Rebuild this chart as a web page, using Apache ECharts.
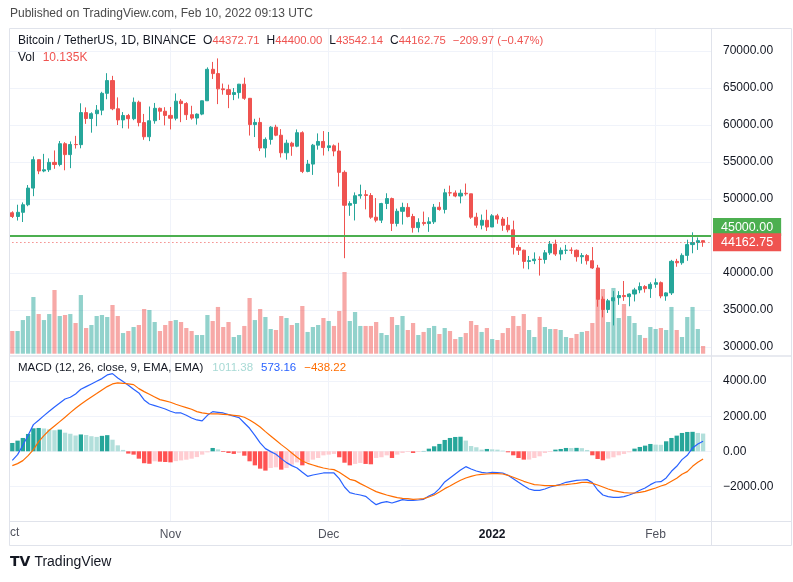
<!DOCTYPE html>
<html><head><meta charset="utf-8">
<script src="https://cdn.jsdelivr.net/npm/echarts/dist/echarts.min.js"></script>
<style>html,body{margin:0;padding:0;background:#fff}#c{width:793px;height:582px}</style>
</head><body><div id="c"></div>
<script>
// ---- categories (Oct 1 and Feb 11 are empty slots, as on the original time scale) ----
const dates = [
'2021-10-01','2021-10-02','2021-10-03','2021-10-04','2021-10-05','2021-10-06','2021-10-07','2021-10-08','2021-10-09','2021-10-10','2021-10-11','2021-10-12','2021-10-13','2021-10-14','2021-10-15','2021-10-16','2021-10-17','2021-10-18','2021-10-19','2021-10-20','2021-10-21','2021-10-22','2021-10-23','2021-10-24','2021-10-25','2021-10-26','2021-10-27','2021-10-28','2021-10-29','2021-10-30','2021-10-31',
'2021-11-01','2021-11-02','2021-11-03','2021-11-04','2021-11-05','2021-11-06','2021-11-07','2021-11-08','2021-11-09','2021-11-10','2021-11-11','2021-11-12','2021-11-13','2021-11-14','2021-11-15','2021-11-16','2021-11-17','2021-11-18','2021-11-19','2021-11-20','2021-11-21','2021-11-22','2021-11-23','2021-11-24','2021-11-25','2021-11-26','2021-11-27','2021-11-28','2021-11-29','2021-11-30',
'2021-12-01','2021-12-02','2021-12-03','2021-12-04','2021-12-05','2021-12-06','2021-12-07','2021-12-08','2021-12-09','2021-12-10','2021-12-11','2021-12-12','2021-12-13','2021-12-14','2021-12-15','2021-12-16','2021-12-17','2021-12-18','2021-12-19','2021-12-20','2021-12-21','2021-12-22','2021-12-23','2021-12-24','2021-12-25','2021-12-26','2021-12-27','2021-12-28','2021-12-29','2021-12-30','2021-12-31',
'2022-01-01','2022-01-02','2022-01-03','2022-01-04','2022-01-05','2022-01-06','2022-01-07','2022-01-08','2022-01-09','2022-01-10','2022-01-11','2022-01-12','2022-01-13','2022-01-14','2022-01-15','2022-01-16','2022-01-17','2022-01-18','2022-01-19','2022-01-20','2022-01-21','2022-01-22','2022-01-23','2022-01-24','2022-01-25','2022-01-26','2022-01-27','2022-01-28','2022-01-29','2022-01-30','2022-01-31',
'2022-02-01','2022-02-02','2022-02-03','2022-02-04','2022-02-05','2022-02-06','2022-02-07','2022-02-08','2022-02-09','2022-02-10','2022-02-11'
];
const firstDataSlot = 1; // data starts at 2021-10-02
const monthNames = {'01':'Jan','02':'Feb','10':'Oct','11':'Nov','12':'Dec'};
const clippedFirstLabel = 'ct'; // "Oct" cut by the left edge of the time scale

// ---- daily candles, 2021-10-02 .. 2022-02-10 ----
const opens = [
48141.6,47634.9,48200.0,49224.9,51472.0,55315.0,53785.2,53955.7,54949.7,54659.0,57471.4,55996.9,57370.8,57347.9,61672.4,60875.6,61528.3,62005.6,64280.6,66001.4,62193.2,60688.2,61286.8,60852.2,63078.8,60328.8,58413.4,60575.9,62253.7,61859.2,
61299.8,60911.1,63220.6,62896.5,61395.0,60940.2,61470.6,63273.6,67525.8,66947.7,64882.4,64774.3,64122.2,64380.0,65519.1,63606.7,60058.9,60344.9,56891.6,58057.1,59707.5,58617.7,56243.8,57541.3,57138.3,58960.4,53723.7,54716.5,57274.9,57776.3,
56950.6,57184.1,56484.3,53601.1,49152.5,49396.3,50441.9,50589.0,50471.2,47535.9,47140.5,49390.0,50053.9,46702.8,48337.0,48865.0,47632.4,46133.8,46834.5,46681.2,46914.2,48887.6,48588.2,50838.8,50820.0,50399.7,50775.5,50701.4,47543.7,46464.7,47120.9,
46216.9,47722.7,47286.2,46446.1,45832.0,43451.1,43082.3,41566.5,41672.0,41864.6,41822.5,42729.3,43902.7,42558.4,43060.0,43084.3,43071.7,42201.6,42352.1,41660.0,40680.9,36445.3,35071.4,36244.6,36660.4,36958.3,36807.2,37160.1,37716.6,38166.8,37881.8,
38466.9,38694.6,36896.4,37312.0,41571.7,41382.6,42380.9,43840.0,44118.5,44372.71
];
const highs = [
48336.6,49228.1,49536.1,51886.3,55750.0,55332.3,56100.0,55489.0,56561.3,57839.0,57680.0,57777.0,58532.5,62933.0,62378.4,61718.4,62695.8,64486.0,67000.0,66639.7,63732.4,61747.6,61500.0,63710.6,63293.5,61496.0,62499.0,62980.0,62359.3,62405.3,
62437.7,64270.0,63500.0,63086.3,62595.7,61560.5,63286.4,67789.0,68524.3,69000.0,65600.1,65450.7,65000.0,65550.5,66401.8,63617.3,60840.2,60976.0,58320.0,59845.0,60029.8,59444.0,58010.0,57735.0,59398.9,59150.0,55280.0,57445.1,58866.0,59177.0,
59053.6,57375.5,57600.0,53859.1,49699.1,50891.1,51936.3,51200.0,50797.8,50125.0,49485.7,50777.0,50190.0,48700.4,49500.0,49436.4,47996.0,47392.4,48300.0,47537.6,49329.0,49576.1,51375.0,51810.0,51156.2,51280.0,52088.0,50704.1,48139.1,47900.0,48548.3,
47954.6,47990.0,47570.0,47557.5,47070.0,43816.0,43145.8,42300.0,42786.7,42248.5,43100.0,44322.0,44500.0,43448.8,43800.0,43475.0,43176.2,42691.0,42559.1,43505.0,41100.0,36835.2,36499.0,37550.0,37545.1,38920.0,37234.5,38000.0,38720.7,38359.3,38744.0,
39265.2,38855.9,37387.0,41772.3,41913.7,42656.0,44500.5,45492.0,44800.0,44400.00
];
const lows = [
47430.2,47088.0,46891.0,49022.4,50382.4,53357.0,53617.6,53661.7,54080.0,54415.1,53879.0,54167.2,56818.1,56850.0,60150.0,58963.0,59844.5,61322.2,63481.4,62000.0,60000.0,59562.2,59510.6,60650.0,59817.6,58000.0,57820.0,60174.8,60673.0,59945.4,
59405.0,60624.7,60382.8,60677.0,60721.0,60050.0,61322.8,63273.6,66222.4,62822.9,64100.0,62278.0,63360.2,63576.3,63400.0,58574.1,58373.0,56474.3,55600.0,57353.0,58486.7,55610.0,55317.0,55837.0,57000.0,53500.0,53610.0,53256.6,56666.7,55875.6,
56458.0,55777.8,51680.0,42000.3,47727.2,47100.0,50039.7,48600.0,47320.0,46852.0,46751.0,48638.0,45672.8,46290.0,46547.0,47511.0,45456.0,45500.0,46406.9,45558.9,46630.0,48421.9,48046.5,50384.4,50236.7,49412.0,50449.0,47313.0,46097.0,45900.0,45678.0,
46208.4,46654.0,45696.0,45500.0,42500.0,42430.6,40610.0,40501.0,41200.0,39650.0,41268.9,42450.0,42311.2,41726.0,42555.0,42581.8,41540.4,41250.0,41138.6,40553.3,35440.5,34008.0,34601.0,32917.2,35701.0,36234.6,35507.0,36155.0,37268.4,37351.6,36632.6,
38000.0,36587.0,36250.0,37026.7,40843.0,41116.6,41645.9,42666.0,43117.9,43542.14
];
const closes = [
47634.9,48200.0,49224.9,51472.0,55315.0,53785.2,53951.4,54949.7,54659.0,57471.4,55996.9,57367.0,57347.9,61672.4,60875.6,61528.3,62009.8,64280.6,66001.4,62193.2,60688.2,61286.8,60852.2,63078.8,60328.8,58413.4,60575.9,62253.7,61859.2,61299.8,
60911.1,63220.0,62896.5,61395.0,60937.1,61470.6,63273.6,67525.8,66947.7,64882.4,64774.3,64122.2,64380.0,65519.1,63606.7,60058.9,60344.9,56891.6,58052.2,59707.5,58622.0,56247.2,57541.3,57138.3,58960.4,53726.5,54721.0,57274.9,57776.3,56950.6,
57184.1,56480.3,53601.1,49152.5,49396.3,50441.9,50589.0,50471.2,47545.6,47140.5,49390.0,50053.9,46702.8,48343.3,48865.0,47632.4,46131.2,46834.5,46681.2,46914.2,48889.9,48588.2,50838.8,50820.0,50399.7,50775.5,50701.4,47543.7,46464.7,47120.9,46216.9,
47722.7,47286.2,46446.1,45832.0,43451.1,43082.3,41566.5,41672.0,41864.6,41822.5,42729.3,43902.7,42560.1,43060.0,43084.3,43071.7,42201.6,42352.1,41660.0,40680.9,36445.3,35071.4,36244.6,36660.4,36958.3,36809.3,37160.1,37716.6,38166.8,37881.8,38466.9,
38694.6,36896.4,37311.6,41574.3,41382.6,42380.9,43840.3,44118.4,44372.71,44162.75
];
// volume in thousands of BTC
const volumes = [
29.9,29.9,44.3,49.6,74.6,52.2,44.3,52.2,83.8,49.6,50.9,52.2,40.4,77.2,33.8,37.8,49.6,50.9,48.3,64.1,49.6,27.2,29.9,35.1,37.8,58.8,57.5,41.7,29.9,37.8,
43.0,44.3,41.7,33.8,29.9,24.6,24.6,50.9,43.0,61.5,35.1,41.7,22.0,24.6,36.5,73.3,44.3,58.8,48.3,32.5,31.2,49.6,47.0,37.8,40.4,62.8,28.6,35.1,37.8,47.0,
43.0,36.5,56.2,107.5,43.0,54.9,36.5,36.5,36.5,41.7,27.2,24.6,48.3,37.8,49.6,31.2,40.4,24.6,28.6,33.8,36.5,25.9,33.8,29.9,19.3,22.0,27.2,43.0,37.8,28.6,33.8,
19.3,18.0,27.2,33.8,49.6,36.5,52.2,31.2,22.0,48.3,35.1,32.5,32.5,31.2,22.0,20.7,25.9,28.6,29.9,40.4,110.5,85.1,41.7,86.5,47.0,65.4,49.6,40.4,24.6,20.7,35.1,
32.5,33.8,31.2,61.5,31.2,22.0,48.3,61.5,32.5,10.135
];
// MACD (12, 26, close, 9)
const macdLine = [
-513,-190,342,912,1520,1767,2033,2280,2527,2755,2983,3078,3268,3534,3686,3838,3990,4142,4351,4427,4180,3971,3762,3534,3325,2926,2698,2603,2508,2413,
2280,2185,2185,2052,1900,1786,1729,2052,2261,2223,2185,2090,1995,1919,1615,1311,912,475,152,-19,-171,-418,-646,-817,-950,-1197,-1425,-1349,-1292,-1235,
-1235,-1235,-1558,-2033,-2356,-2432,-2489,-2565,-2812,-3040,-2926,-2869,-2945,-2850,-2755,-2793,-2793,-2774,-2736,-2546,-2413,-2128,-1748,-1520,-1292,-1064,-874,-1007,-1121,-1197,-1235,
-1197,-1216,-1235,-1368,-1558,-1767,-1957,-2147,-2223,-2223,-2147,-2033,-1957,-1881,-1767,-1710,-1653,-1634,-1615,-1786,-2204,-2489,-2584,-2622,-2622,-2584,-2489,-2375,-2223,-2090,-1900,
-1748,-1729,-1520,-1140,-855,-475,-228,190,418,573.16
];
const signalLine = [
-817,-703,-532,-247,95,551,893,1197,1444,1691,1938,2204,2451,2679,2888,3097,3287,3496,3686,3838,3895,3876,3838,3800,3572,3401,3249,3097,2945,2869,
2793,2679,2584,2489,2394,2261,2185,2147,2128,2128,2109,2090,2052,2014,1938,1786,1596,1387,1121,874,627,380,152,-95,-342,-551,-684,-779,-874,-950,
-1007,-1045,-1197,-1387,-1596,-1672,-1843,-1995,-2147,-2299,-2394,-2489,-2565,-2641,-2679,-2698,-2736,-2717,-2698,-2603,-2489,-2318,-2128,-1976,-1805,-1653,-1520,-1425,-1349,-1311,-1292,
-1273,-1273,-1292,-1368,-1482,-1596,-1710,-1805,-1900,-1919,-1957,-1957,-1957,-1919,-1900,-1862,-1824,-1767,-1767,-1824,-1919,-2033,-2147,-2242,-2299,-2356,-2375,-2375,-2337,-2280,-2185,
-2090,-1976,-1881,-1710,-1539,-1311,-1159,-855,-627,-438.22
];
const macdHist = [
475,608,760,988,1310,1330,1300,1250,1200,1235,1060,1000,900,960,930,860,820,880,920,660,340,80,-130,-190,-420,-680,-710,-570,-590,-610,
-630,-560,-520,-480,-420,-330,-190,-60,190,110,-40,-95,-150,-95,-250,-570,-800,-990,-1100,-950,-910,-1045,-950,-760,-630,-800,-630,-475,-380,-230,
-190,-150,-340,-650,-800,-720,-665,-720,-740,-380,-340,-230,-380,-190,-95,-40,-95,-40,20,150,285,420,646,760,817,830,610,300,230,95,133,
114,95,38,-57,-228,-380,-475,-470,-380,-285,-95,-38,95,133,190,185,195,180,76,-228,-437,-513,-418,-342,-228,-152,-57,152,247,323,418,
380,370,570,760,893,1045,1102,1110,1045,1011.38
];
// horizontal level drawn on the chart and legend texts
const levelLine = 45000;
const priceTicks = {min: 30000, max: 70000, step: 5000};
const macdTicks = {min: -4000, max: 4000, step: 2000};
const legendOHLC = ['44372.71', '44400.00', '43542.14', '44162.75'];
const legendChange = '\u2212209.97 (\u22120.47%)';
const legendVol = '10.135K';
const legendMacd = ['1011.38', '573.16', '\u2212438.22'];

// ---- build series data ----
const UP = '#26A69A', DOWN = '#EF5350';
const N = closes.length;
const slot = (i) => { const k = i - firstDataSlot; return (k >= 0 && k < N) ? k : -1; };
const candleData = dates.map((d, i) => { const k = slot(i); return k < 0 ? ['-', '-', '-', '-'] : [opens[k], closes[k], lows[k], highs[k]]; });
const volData = dates.map((d, i) => { const k = slot(i); if (k < 0) return '-';
  return {value: volumes[k], itemStyle: {color: closes[k] >= opens[k] ? 'rgba(38,166,154,0.5)' : 'rgba(239,83,80,0.5)'}}; });
const macdData = dates.map((d, i) => { const k = slot(i); return k < 0 ? '-' : macdLine[k]; });
const sigData = dates.map((d, i) => { const k = slot(i); return k < 0 ? '-' : signalLine[k]; });
const histData = dates.map((d, i) => { const k = slot(i); if (k < 0) return '-';
  const v = macdHist[k], p = k > 0 ? macdHist[k - 1] : v;
  const c = v >= 0 ? (v >= p ? '#26A69A' : '#B2DFDB') : (v <= p ? '#FF5252' : '#FFCDD2');
  return {value: v, itemStyle: {color: c}}; });

const FONT = "'Liberation Sans', Arial, sans-serif";
const isMonthStart = (idx, val) => val.slice(8) === '01';
const isLabelled = (idx, val) => idx > 0 && isMonthStart(idx, val);
const fmt2 = (v) => (v < 0 ? '\u2212' : '') + Math.abs(v).toFixed(2);
const GRID_L = 4.4, GRID_R = 82;
const hiddenX = (gi) => ({type: 'category', gridIndex: gi, data: dates, boundaryGap: true,
  axisLine: {show: false}, axisTick: {show: false}, axisLabel: {show: false}, splitLine: {show: false}});

const chart = echarts.init(document.getElementById('c'), null, {renderer: 'canvas'});
chart.setOption({
  animation: false,
  backgroundColor: '#ffffff',
  textStyle: {fontFamily: FONT},
  title: [
    {text: 'Published on TradingView.com, Feb 10, 2022 09:13 UTC', left: 10, top: 8, padding: 0,
     textStyle: {fontSize: 12, fontWeight: 'normal', color: '#4A4A4A', fontFamily: FONT}},
    {text: '{n|Bitcoin / TetherUS, 1D, BINANCE}{g|O}{r|' + legendOHLC[0] + '}{g|H}{r|' + legendOHLC[1] + '}{g|L}{r|' + legendOHLC[2] + '}{g|C}{r|' + legendOHLC[3] + '}{s|' + legendChange + '}',
     left: 18, top: 35, padding: 0,
     textStyle: {fontSize: 12, fontWeight: 'normal', fontFamily: FONT, rich: {
       n: {color: '#131722', fontSize: 12, fontWeight: 'normal', fontFamily: FONT},
       g: {color: '#131722', fontSize: 12, fontWeight: 'normal', fontFamily: FONT, padding: [0, 0, 0, 7]},
       r: {color: DOWN, fontSize: 11.3, fontWeight: 'normal', fontFamily: FONT},
       s: {color: DOWN, fontSize: 11.3, fontWeight: 'normal', fontFamily: FONT, padding: [0, 0, 0, 7]}}}},
    {text: '{n|Vol}{r|' + legendVol + '}', left: 18, top: 52, padding: 0,
     textStyle: {fontSize: 12, fontWeight: 'normal', rich: {
       n: {color: '#131722', fontSize: 12, fontWeight: 'normal', fontFamily: FONT},
       r: {color: DOWN, fontSize: 12, fontWeight: 'normal', fontFamily: FONT, padding: [0, 0, 0, 8]}}}},
    {text: '{n|MACD (12, 26, close, 9, EMA, EMA)}{h|' + legendMacd[0] + '}{m|' + legendMacd[1] + '}{s|' + legendMacd[2] + '}',
     left: 18, top: 362, padding: 0,
     textStyle: {fontSize: 11.5, fontWeight: 'normal', rich: {
       n: {color: '#131722', fontSize: 11.5, fontWeight: 'normal', fontFamily: FONT},
       h: {color: '#A8DAD5', fontSize: 11.5, fontWeight: 'normal', fontFamily: FONT, padding: [0, 0, 0, 9]},
       m: {color: '#2962FF', fontSize: 11.5, fontWeight: 'normal', fontFamily: FONT, padding: [0, 0, 0, 8]},
       s: {color: '#FF6D00', fontSize: 11.5, fontWeight: 'normal', fontFamily: FONT, padding: [0, 0, 0, 8]}}}},
    {text: clippedFirstLabel, left: 10, top: 527, padding: 0,
     textStyle: {fontSize: 12, fontWeight: 'normal', color: '#50535E', fontFamily: FONT}},
    {text: '{l|TV}{t|TradingView}', left: 10, top: 555, padding: 0,
     textStyle: {fontWeight: 'normal', rich: {
       l: {color: '#131722', fontSize: 14, fontWeight: 'bold', fontFamily: "'DejaVu Sans', sans-serif"},
       t: {color: '#131722', fontSize: 14, fontWeight: 'normal', fontFamily: FONT, padding: [0, 0, 0, 4]}}}}
  ],
  grid: [
    {left: GRID_L, right: GRID_R, top: 51, height: 296},          // price
    {left: GRID_L, right: GRID_R, top: 201.7, height: 152},       // volume overlay
    {left: GRID_L, right: GRID_R, top: 381.1, bottom: 60.5},      // MACD
    {left: GRID_L, right: GRID_R, top: 29, bottom: 60.5}          // vertical time grid
  ],
  xAxis: [
    hiddenX(0),
    hiddenX(1),
    {type: 'category', gridIndex: 2, data: dates, boundaryGap: true,
     axisLine: {show: false}, axisTick: {show: false}, splitLine: {show: false},
     axisLabel: {interval: isLabelled, margin: 7, color: '#50535E', fontSize: 12, fontFamily: FONT,
       formatter: (v) => v.slice(5, 7) === '01' ? '{y|' + v.slice(0, 4) + '}' : monthNames[v.slice(5, 7)],
       rich: {y: {fontWeight: 'bold', color: '#131722', fontSize: 12, fontFamily: FONT}}}},
    {type: 'category', gridIndex: 3, data: dates, boundaryGap: true,
     axisLine: {show: false}, axisTick: {show: false}, axisLabel: {show: false},
     splitLine: {show: true, interval: isMonthStart, alignWithLabel: true, lineStyle: {color: '#F0F3FA', width: 1}}}
  ],
  yAxis: [
    {type: 'value', gridIndex: 0, position: 'right', min: priceTicks.min, max: priceTicks.max, interval: priceTicks.step,
     axisLine: {show: false}, axisTick: {show: false},
     axisLabel: {margin: 12, color: '#131722', fontSize: 12, fontFamily: FONT, formatter: (v) => v.toFixed(2)},
     splitLine: {lineStyle: {color: '#F0F3FA', width: 1}}},
    {type: 'value', gridIndex: 1, min: 0, max: 200, show: false, splitLine: {show: false}},
    {type: 'value', gridIndex: 2, position: 'right', min: macdTicks.min, max: macdTicks.max, interval: macdTicks.step,
     axisLine: {show: false}, axisTick: {show: false},
     axisLabel: {margin: 12, color: '#131722', fontSize: 12, fontFamily: FONT, showMinLabel: false, formatter: fmt2},
     splitLine: {lineStyle: {color: '#F0F3FA', width: 1}}},
    {type: 'value', gridIndex: 3, show: false, splitLine: {show: false}}
  ],
  series: [
    {name: 'Volume', type: 'bar', xAxisIndex: 1, yAxisIndex: 1, data: volData, barWidth: '80%', silent: true},
    {name: 'BTCUSDT', type: 'candlestick', xAxisIndex: 0, yAxisIndex: 0, data: candleData, barWidth: 3.6, silent: true,
     itemStyle: {color: UP, color0: DOWN, borderColor: UP, borderColor0: DOWN, borderWidth: 1},
     markLine: {symbol: 'none', silent: true, animation: false, z: 10,
       data: [
         {yAxis: levelLine, lineStyle: {color: '#4CAF50', width: 2, type: 'solid'},
          label: {show: true, position: 'end', distance: 2, verticalAlign: 'bottom', formatter: (p) => p.value.toFixed(2),
            color: '#fff', backgroundColor: '#4CAF50', padding: [3, 8, 2, 8], fontSize: 12.5, fontFamily: FONT}},
         {yAxis: closes[N - 1], lineStyle: {color: DOWN, width: 1, type: [1, 3]},
          label: {show: true, position: 'end', distance: 2, formatter: (p) => p.value.toFixed(2),
            color: '#fff', backgroundColor: DOWN, padding: [3, 8, 2, 8], fontSize: 12.5, fontFamily: FONT}}
       ]}},
    {name: 'Histogram', type: 'bar', xAxisIndex: 2, yAxisIndex: 2, data: histData, barWidth: '82%', silent: true},
    {name: 'MACD', type: 'line', xAxisIndex: 2, yAxisIndex: 2, data: macdData, symbol: 'none', clip: false, silent: true,
     lineStyle: {color: '#2962FF', width: 1.2}},
    {name: 'Signal', type: 'line', xAxisIndex: 2, yAxisIndex: 2, data: sigData, symbol: 'none', clip: false, silent: true,
     lineStyle: {color: '#FF6D00', width: 1.2}}
  ],
  graphic: [
    {type: 'rect', shape: {x: 0, y: 20, width: 9, height: 540}, style: {fill: '#ffffff'}, z: 100, silent: true},
    {type: 'rect', shape: {x: 9.5, y: 28.5, width: 782, height: 517}, style: {fill: 'none', stroke: '#E0E3EB', lineWidth: 1}, z: 101, silent: true},
    {type: 'line', shape: {x1: 711.5, y1: 28.5, x2: 711.5, y2: 545.5}, style: {stroke: '#E0E3EB', lineWidth: 1}, z: 101, silent: true},
    {type: 'line', shape: {x1: 9.5, y1: 356, x2: 791.5, y2: 356}, style: {stroke: '#E0E3EB', lineWidth: 1.5}, z: 101, silent: true},
    {type: 'line', shape: {x1: 9.5, y1: 521.5, x2: 791.5, y2: 521.5}, style: {stroke: '#E0E3EB', lineWidth: 1}, z: 101, silent: true}
  ]
});
</script>
</body></html>
